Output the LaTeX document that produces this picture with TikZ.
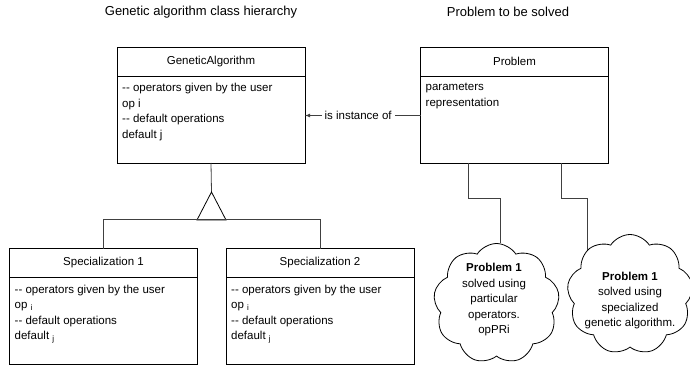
\documentclass[tikz,border=0pt]{standalone}
\usepackage{fontspec}
\setmainfont{Liberation Sans}
\usetikzlibrary{arrows}
\usetikzlibrary{shapes}
\usetikzlibrary{positioning}
\tikzstyle{TitleNode}=[font=\fontsize{13}{15}\selectfont]
\tikzstyle{HeadNode}=[rectangle, draw=black, line width=0.8pt, outer sep=0pt, minimum width=188pt, minimum height=29pt, font=\fontsize{11.5}{15.5}\selectfont]
\tikzstyle{BodyNode}=[HeadNode, minimum height=87pt]
\tikzstyle{ListNode}=[anchor=north west, align=left, inner sep=0pt, font=\fontsize{11.5}{15.5}\selectfont]
\tikzstyle{CloudNode}=[cloud, draw=black, line width=0.8pt, cloud puffs=9, cloud puff arc=115, cloud ignores aspect, minimum width=126pt, minimum height=120pt]
\tikzstyle{CloudText}=[align=center, font=\fontsize{11.5}{15.5}\selectfont]
\tikzstyle{Link}=[draw=darkgray, line width=0.8pt]
\tikzstyle{InstEdge}=[Link, -latex]

\begin{document}
\begin{tikzpicture}[x=1pt, y=-1pt]
\useasboundingbox (0,0) rectangle (690,366);

\node[TitleNode](LeftTitle) at (201,12) {Genetic algorithm class hierarchy};
\node[TitleNode](RightTitle) at (508,12) {Problem to be solved};

% base class and problem
\node[HeadNode](GA) at (211,61.5) {GeneticAlgorithm};
\node[BodyNode, below=0pt of GA](GAbody) {};
\node[ListNode, below right=7pt and 5pt of GAbody.north west](GAops) {{-}{-} operators given by the user\\op i\\{-}{-} default operations\\default j};

\node[HeadNode](P) at (514.5,61.5) {Problem};
\node[BodyNode, below=0pt of P](Pbody) {};
\node[ListNode, below right=7pt and 5pt of Pbody.north west](Pops) {parameters\\representation};

% specializations
\node[HeadNode](S1) at (103.5,263) {Specialization 1};
\node[BodyNode, below=0pt of S1](S1body) {};
\node[ListNode, below right=7pt and 5pt of S1body.north west](S1ops) {{-}{-} operators given by the user\\op \textsubscript{i}\\{-}{-} default operations\\default \textsubscript{j}};

\node[HeadNode](S2) at (320,263) {Specialization 2};
\node[BodyNode, below=0pt of S2](S2body) {};
\node[ListNode, below right=7pt and 5pt of S2body.north west](S2ops) {{-}{-} operators given by the user\\op \textsubscript{i}\\{-}{-} default operations\\default \textsubscript{j}};

% solutions
\node[CloudNode](C1) at (496.5,303.5) {};
\node[CloudText](C1text) at (494,300) {\textbf{Problem 1}\\solved using\\particular\\operators.\\opPRi};
\node[CloudNode](C2) at (630,294.5) {};
\node[CloudText](C2text) at (630,300.5) {\textbf{Problem 1}\\solved using\\specialized\\genetic algorithm.};

% inheritance
\coordinate (Tip) at (211.5,192);
\draw[Link](GAbody.south) -- (Tip);
\draw[line width=0.8pt](Tip) -- ++(-14.5,28) -- ++(29,0) -- cycle;
\draw[Link](S1.north) -- ++(0,-29) -| (S2.north);

\draw[InstEdge]([yshift=4pt]Pbody.west) -- node[fill=white, pos=0.54, inner sep=3pt, font=\fontsize{11.5}{15.5}\selectfont](Inst){is instance of} ([yshift=4pt]GAbody.east);

\draw[Link]([xshift=-46.5pt]Pbody.south) -- ++(0,35) -| (C1.86);
\draw[Link]([xshift=46.5pt]Pbody.south) -- ++(0,35) -| (C2.134);
\end{tikzpicture}
\end{document}
